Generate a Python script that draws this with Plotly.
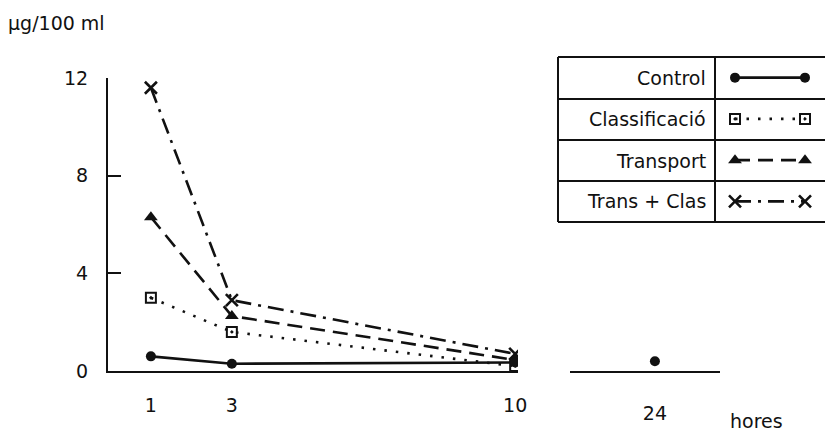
import plotly.graph_objects as go

# ---- data ----
hours = [1, 3, 10]
hour_late = [24]
control = [0.6, 0.3, 0.35]
control_late = [0.4]
classificacio = [3.0, 1.6, 0.2]
transport = [6.3, 2.25, 0.45]
trans_clas = [11.6, 2.9, 0.7]

series_names = ["Control", "Classificació", "Transport", "Trans + Clas"]
y_ticks = [0, 4, 8, 12]
x_ticks = [1, 3, 10]
x_ticks_late = [24]
y_title = "µg/100 ml"
x_title = "hores"

W, H = 825, 432
FONT = "DejaVu Sans"
INK = "#111111"


def px(x):
    return x / W


def py(y):
    return 1 - y / H


styles = {
    "Control": dict(line=dict(color=INK, width=2.6, dash="solid"),
                    marker=dict(symbol="circle", size=10, color=INK)),
    "Classificació": dict(line=dict(color=INK, width=2.6, dash="2.5px,9px"),
                          marker=dict(symbol="square-open-dot", size=10, color=INK,
                                      line=dict(width=2, color=INK))),
    "Transport": dict(line=dict(color=INK, width=2.6, dash="15px,8px"),
                      marker=dict(symbol="triangle-up", size=12, color=INK)),
    "Trans + Clas": dict(line=dict(color=INK, width=2.6, dash="16px,7px,3px,7px"),
                         marker=dict(symbol="x-thin-open", size=12, color=INK,
                                     line=dict(width=2.6, color=INK))),
}

values = {
    "Control": control,
    "Classificació": classificacio,
    "Transport": transport,
    "Trans + Clas": trans_clas,
}

fig = go.Figure()

# draw in back-to-front order
for name in ["Trans + Clas", "Transport", "Classificació", "Control"]:
    st = styles[name]
    fig.add_trace(go.Scatter(x=hours, y=values[name], mode="lines+markers",
                             line=st["line"], marker=st["marker"],
                             xaxis="x", yaxis="y", showlegend=False))

fig.add_trace(go.Scatter(x=hour_late, y=control_late, mode="markers",
                         marker=styles["Control"]["marker"],
                         xaxis="x2", yaxis="y", showlegend=False))

# legend-table samples (drawn on a hidden helper axis)
for i, name in enumerate(series_names):
    st = styles[name]
    fig.add_trace(go.Scatter(x=[0, 1], y=[3.5 - i, 3.5 - i], mode="lines+markers",
                             line=st["line"], marker=st["marker"],
                             xaxis="x3", yaxis="y3", showlegend=False,
                             cliponaxis=False))

# legend table frame
tbl_left, tbl_right, tbl_div = 558, 830, 715
row_edges = [57, 99, 140, 181, 222]
shapes = []
for ry in row_edges:
    shapes.append(dict(type="line", xref="paper", yref="paper",
                       x0=px(tbl_left), x1=px(tbl_right), y0=py(ry), y1=py(ry),
                       line=dict(color=INK, width=2)))
for cx in [tbl_left, tbl_div]:
    shapes.append(dict(type="line", xref="paper", yref="paper",
                       x0=px(cx), x1=px(cx), y0=py(row_edges[0]), y1=py(row_edges[-1]),
                       line=dict(color=INK, width=2)))

annotations = []
for i, name in enumerate(series_names):
    cy = (row_edges[i] + row_edges[i + 1]) / 2
    annotations.append(dict(text=name, xref="paper", yref="paper",
                            x=px(708), y=py(cy), xanchor="right", yanchor="middle",
                            showarrow=False, font=dict(family=FONT, size=19, color=INK)))

annotations.append(dict(text=y_title, xref="paper", yref="paper", x=px(6), y=py(23),
                        xanchor="left", yanchor="middle", showarrow=False,
                        font=dict(family=FONT, size=19, color=INK)))
annotations.append(dict(text=x_title, xref="paper", yref="paper", x=px(756), y=py(421),
                        xanchor="center", yanchor="middle", showarrow=False,
                        font=dict(family=FONT, size=19, color=INK)))

tickfont = dict(family=FONT, size=19, color=INK)

fig.update_layout(
    width=W, height=H,
    margin=dict(l=0, r=0, t=0, b=0),
    paper_bgcolor="white", plot_bgcolor="white",
    showlegend=False,
    shapes=shapes,
    annotations=annotations,
    xaxis=dict(domain=[px(108), px(518)], range=[-0.06, 10.07],
               tickvals=x_ticks, ticktext=[str(v) for v in x_ticks],
               showline=True, linecolor=INK, linewidth=2, ticks="",
               showgrid=False, zeroline=False, tickfont=tickfont,
               ticklabelstandoff=16, anchor="y", automargin=False),
    xaxis2=dict(domain=[px(570), px(720)], range=[21.9, 25.61],
                tickvals=x_ticks_late, ticktext=[str(v) for v in x_ticks_late],
                showline=True, linecolor=INK, linewidth=2, ticks="",
                showgrid=False, zeroline=False, tickfont=tickfont,
                ticklabelstandoff=24, anchor="y", automargin=False),
    yaxis=dict(domain=[py(371), py(78)], range=[0, 12],
               tickvals=y_ticks, ticktext=[str(v) for v in y_ticks],
               showline=True, linecolor=INK, linewidth=2,
               ticks="inside", ticklen=13, tickwidth=2, tickcolor=INK,
               showgrid=False, zeroline=False, tickfont=tickfont,
               ticklabelstandoff=14, anchor="x", automargin=False),
    xaxis3=dict(domain=[px(735), px(805)], range=[0, 1], visible=False,
                anchor="y3", fixedrange=True),
    yaxis3=dict(domain=[py(222), py(57)], range=[0, 4], visible=False,
                anchor="x3", fixedrange=True),
)

fig.write_html("out.html",
               config={"displayModeBar": False},
               post_script="document.body.style.margin='0';document.body.style.overflow='hidden';")
